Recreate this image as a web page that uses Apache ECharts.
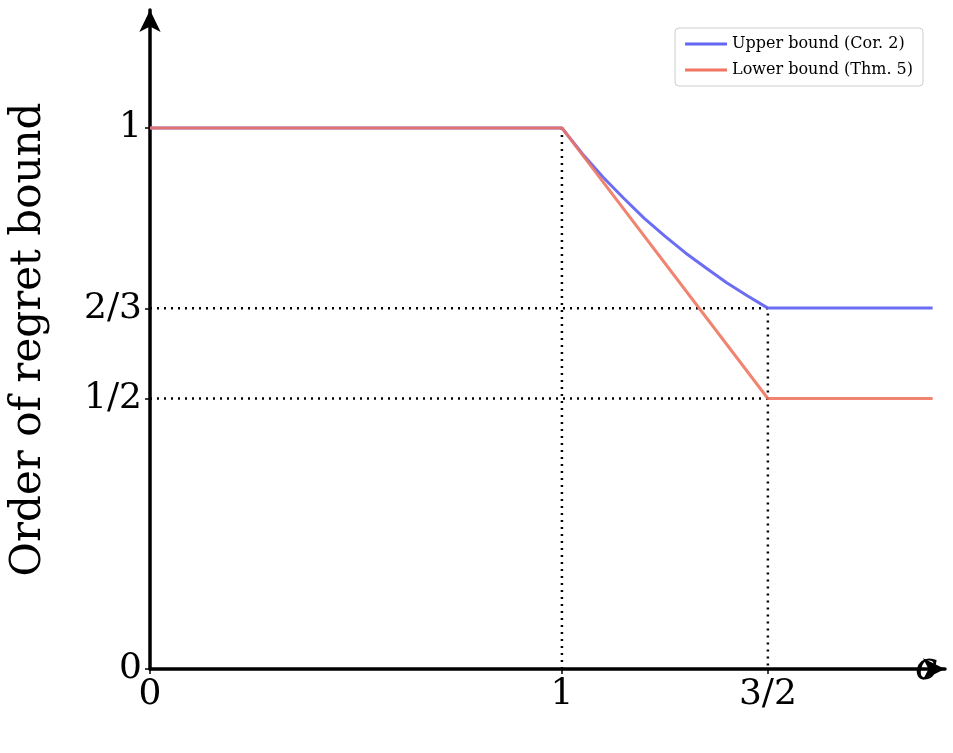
<!DOCTYPE html>
<html>
<head>
<meta charset="utf-8">
<script src="https://cdn.jsdelivr.net/npm/echarts@6/dist/echarts.min.js"></script>
<style>html,body{margin:0;padding:0;background:#fff}#main{width:953px;height:753px}</style>
</head>
<body>
<div id="main"></div>
<script>
// values
const upperX = [0, 1, 1.05, 1.1, 1.15, 1.2, 1.25, 1.3, 1.35, 1.4, 1.45, 1.5, 1.9];
const upperY = [1, 1, 0.952, 0.909, 0.870, 0.833, 0.800, 0.769, 0.741, 0.714, 0.690, 0.667, 0.667];
const lowerX = [0, 1, 1.5, 1.9];
const lowerY = [1, 1, 0.5, 0.5];
const xTicks = [0, 1, 1.5];
const xTickLabels = ['0', '1', '3/2'];
const yTicks = [0, 0.5, 2 / 3, 1];
const yTickLabels = ['0', '1/2', '2/3', '1'];
const guideA = [[1, 0], [1, 1]];
const guideB = [[0, 2 / 3], [1.5, 2 / 3], [1.5, 0]];
const guideC = [[0, 0.5], [1.5, 0.5]];

const serif = '"DejaVu Serif", serif';
const pairs = (xs, ys) => xs.map((x, i) => [x, ys[i]]);
const dotted = d => ({
    type: 'line', data: d, symbol: 'none', silent: true,
    lineStyle: {color: '#000', width: 2.5, type: [2, 5]}, z: 1
});
const label = (ticks, names) => v => {
    let i = ticks.findIndex(t => Math.abs(t - v) < 1e-6);
    return i >= 0 ? names[i] : '';
};

let myChart = echarts.init(document.getElementById('main'));
myChart.setOption({
    animation: false,
    grid: {left: 147, right: 8, top: 10, bottom: 84},
    legend: {
        data: ['Upper bound (Cor. 2)', 'Lower bound (Thm. 5)'],
        orient: 'vertical', right: 30, top: 28,
        itemWidth: 42, itemHeight: 3, itemGap: 10,
        icon: 'rect',
        borderColor: '#ccc', borderWidth: 1, borderRadius: 4, padding: [8, 10],
        textStyle: {fontFamily: serif, fontSize: 16, color: '#000'}
    },
    xAxis: {
        type: 'value', min: 0, max: 1.93,
        name: 'c', nameLocation: 'end', nameGap: -30,
        nameTextStyle: {fontFamily: serif, fontStyle: 'italic', fontSize: 40, color: '#000', padding: [95, 0, 0, 0]},
        axisLine: {lineStyle: {color: '#000', width: 3.5}, symbol: ['none', 'arrow'], symbolSize: [16, 22]},
        axisTick: {show: true, customValues: xTicks, length: 5, lineStyle: {color: '#000', width: 1.5}},
        axisLabel: {customValues: xTicks, formatter: label(xTicks, xTickLabels), fontFamily: serif, fontSize: 36, color: '#000', margin: 8},
        splitLine: {show: false}
    },
    yAxis: {
        type: 'value', min: 0, max: 1.218,
        name: 'Order of regret bound', nameLocation: 'middle', nameGap: 100,
        nameTextStyle: {fontFamily: serif, fontSize: 42, color: '#000'},
        axisLine: {show: true, lineStyle: {color: '#000', width: 3.5}, symbol: ['none', 'arrow'], symbolSize: [16, 22]},
        axisTick: {show: true, customValues: yTicks, length: 5, lineStyle: {color: '#000', width: 1.5}},
        axisLabel: {customValues: yTicks, formatter: label(yTicks, yTickLabels), fontFamily: serif, fontSize: 36, color: '#000', margin: 8},
        splitLine: {show: false}
    },
    series: [
        dotted(guideA), dotted(guideB), dotted(guideC),
        {name: 'Upper bound (Cor. 2)', type: 'line', data: pairs(upperX, upperY), symbol: 'none', smooth: false,
            color: '#6366f1', lineStyle: {width: 3, color: '#6366f1', opacity: 0.95}, z: 2},
        {name: 'Lower bound (Thm. 5)', type: 'line', data: pairs(lowerX, lowerY), symbol: 'none',
            color: '#f07662', lineStyle: {width: 3, color: '#f07662', opacity: 0.9}, z: 3}
    ]
});
</script>
</body>
</html>
